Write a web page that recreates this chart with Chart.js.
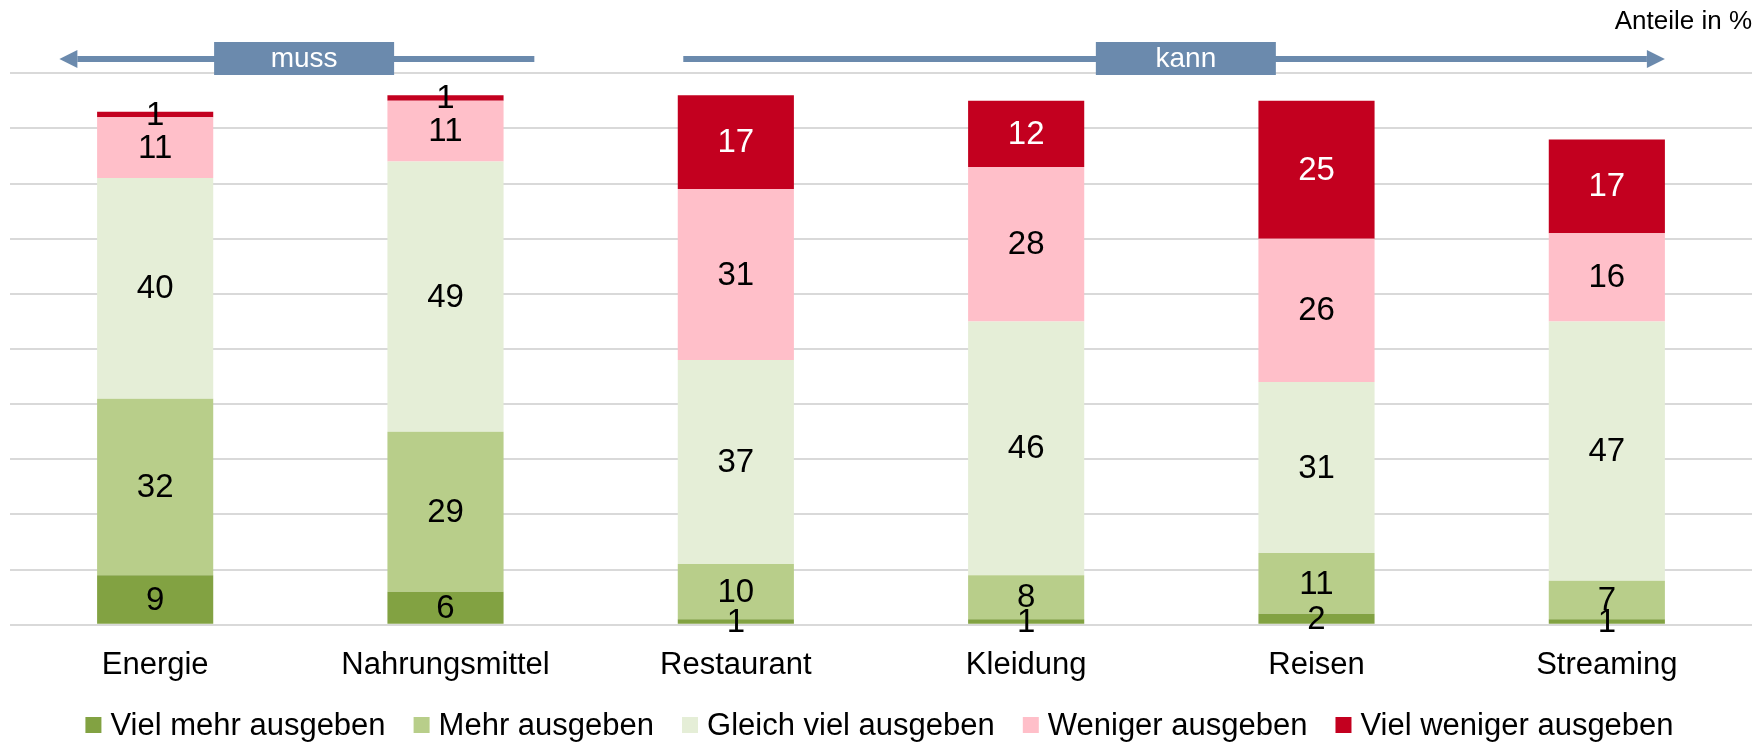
<!DOCTYPE html>
<html>
<head>
<meta charset="utf-8">
<script src="https://cdn.jsdelivr.net/npm/chart.js@4"></script>
<style>
  html, body { margin: 0; padding: 0; background: #fff; }
  #wrap { width: 1759px; height: 743px; }
</style>
</head>
<body>
<div id="wrap"><canvas id="chart"></canvas></div>
<script>
// Daten (Anteile in %)
const categories  = ['Energie', 'Nahrungsmittel', 'Restaurant', 'Kleidung', 'Reisen', 'Streaming'];
const vielMehr    = [9, 6, 1, 1, 2, 1];
const mehr        = [32, 29, 10, 8, 11, 7];
const gleich      = [40, 49, 37, 46, 31, 47];
const weniger     = [11, 11, 31, 28, 26, 16];
const vielWeniger = [1, 1, 17, 12, 25, 17];
const seriesNames = ['Viel mehr ausgeben', 'Mehr ausgeben', 'Gleich viel ausgeben', 'Weniger ausgeben', 'Viel weniger ausgeben'];
const seriesData  = [vielMehr, mehr, gleich, weniger, vielWeniger];
const COLORS      = ['#82a242', '#b8ce8a', '#e5eed7', '#ffbfc9', '#c3001f'];
const Y_MAX = 100, Y_STEP = 10;

// Pfeile oben (Positionen in Kategorie-Einheiten)
const ARROWS = [
  { text: 'muss', from: 1.306, to: -0.33, box: 0.513 },
  { text: 'kann', from: 1.819, to: 5.2,   box: 3.55 }
];
const ARROW_COLOR = '#6b8aad';

const FONT = '"Liberation Sans", Arial, sans-serif';
Chart.defaults.font.family = FONT;
Chart.defaults.color = '#000';

// Werte mittig in die Segmente schreiben
const valueLabels = {
  id: 'valueLabels',
  afterDatasetsDraw(chart) {
    const ctx = chart.ctx;
    ctx.save();
    ctx.font = '33px ' + FONT;
    ctx.textAlign = 'center';
    ctx.textBaseline = 'middle';
    chart.data.datasets.forEach((ds, di) => {
      chart.getDatasetMeta(di).data.forEach((bar, i) => {
        const v = ds.data[i];
        const { x, y, base } = bar.getProps(['x', 'y', 'base'], true);
        ctx.fillStyle = (di === 4 && v > 1) ? '#fff' : '#000';
        ctx.fillText(String(v), x, (y + base) / 2 + 1);
      });
    });
    ctx.restore();
  }
};

// "muss" / "kann" Pfeile
const arrowPlugin = {
  id: 'arrows',
  afterDraw(chart) {
    const ctx = chart.ctx;
    const xs = chart.scales.x;
    const yLine = 59, head = 18, boxW = 180, boxH = 33;
    ctx.save();
    ARROWS.forEach(a => {
      const x0 = xs.getPixelForValue(a.from);
      const x1 = xs.getPixelForValue(a.to);
      const dir = Math.sign(x1 - x0);
      ctx.strokeStyle = ARROW_COLOR;
      ctx.fillStyle = ARROW_COLOR;
      ctx.lineWidth = 6;
      ctx.beginPath();
      ctx.moveTo(x0, yLine);
      ctx.lineTo(x1 - dir * head, yLine);
      ctx.stroke();
      ctx.beginPath();
      ctx.moveTo(x1, yLine);
      ctx.lineTo(x1 - dir * head, yLine - 9);
      ctx.lineTo(x1 - dir * head, yLine + 9);
      ctx.closePath();
      ctx.fill();
      const bx = xs.getPixelForValue(a.box);
      ctx.fillRect(bx - boxW / 2, yLine - 17, boxW, boxH);
      ctx.fillStyle = '#fff';
      ctx.font = '28px ' + FONT;
      ctx.textAlign = 'center';
      ctx.textBaseline = 'middle';
      ctx.fillText(a.text, bx, yLine);
    });
    ctx.restore();
  }
};

// Legende unten (eigene Zeichnung, damit Abstände passen)
const bottomLegend = {
  id: 'bottomLegend',
  afterDraw(chart) {
    const ctx = chart.ctx;
    const box = 16, gapBox = 9, gapItem = 28, yc = 725;
    ctx.save();
    ctx.font = '31px ' + FONT;
    ctx.textBaseline = 'middle';
    ctx.textAlign = 'left';
    const widths = seriesNames.map(n => ctx.measureText(n).width);
    const total = widths.reduce((s, w) => s + w, 0) + seriesNames.length * (box + gapBox) + (seriesNames.length - 1) * gapItem;
    let x = (chart.width - total) / 2;
    seriesNames.forEach((name, i) => {
      ctx.fillStyle = COLORS[i];
      ctx.fillRect(x, yc - box / 2, box, box);
      x += box + gapBox;
      ctx.fillStyle = '#000';
      ctx.fillText(name, x, yc + 1);
      x += widths[i] + gapItem;
    });
    ctx.restore();
  }
};

new Chart(document.getElementById('chart'), {
  type: 'bar',
  data: {
    labels: categories,
    datasets: seriesData.map((d, i) => ({
      label: seriesNames[i],
      data: d,
      backgroundColor: COLORS[i],
      borderWidth: 0,
      categoryPercentage: 0.4,
      barPercentage: 1
    }))
  },
  options: {
    responsive: true, maintainAspectRatio: false,
    animation: false,
    layout: { padding: { left: 10, right: 7, top: 0, bottom: 37 } },
    plugins: {
      title: {
        display: true, text: 'Anteile in %', align: 'end', position: 'top',
        font: { size: 26, weight: 'normal' }, color: '#000',
        padding: { top: 6, bottom: 36 }
      },
      legend: { display: false },
      tooltip: { enabled: false }
    },
    scales: {
      x: {
        stacked: true,
        grid: { display: false, drawTicks: false },
        border: { display: false },
        ticks: { font: { size: 31 }, color: '#000', padding: 22, maxRotation: 0 }
      },
      y: {
        stacked: true, min: 0, max: Y_MAX,
        ticks: { display: false, stepSize: Y_STEP },
        grid: { color: '#d9d9d9', lineWidth: 2, drawTicks: false },
        border: { display: false }
      }
    }
  },
  plugins: [valueLabels, arrowPlugin, bottomLegend]
});
</script>
</body>
</html>
